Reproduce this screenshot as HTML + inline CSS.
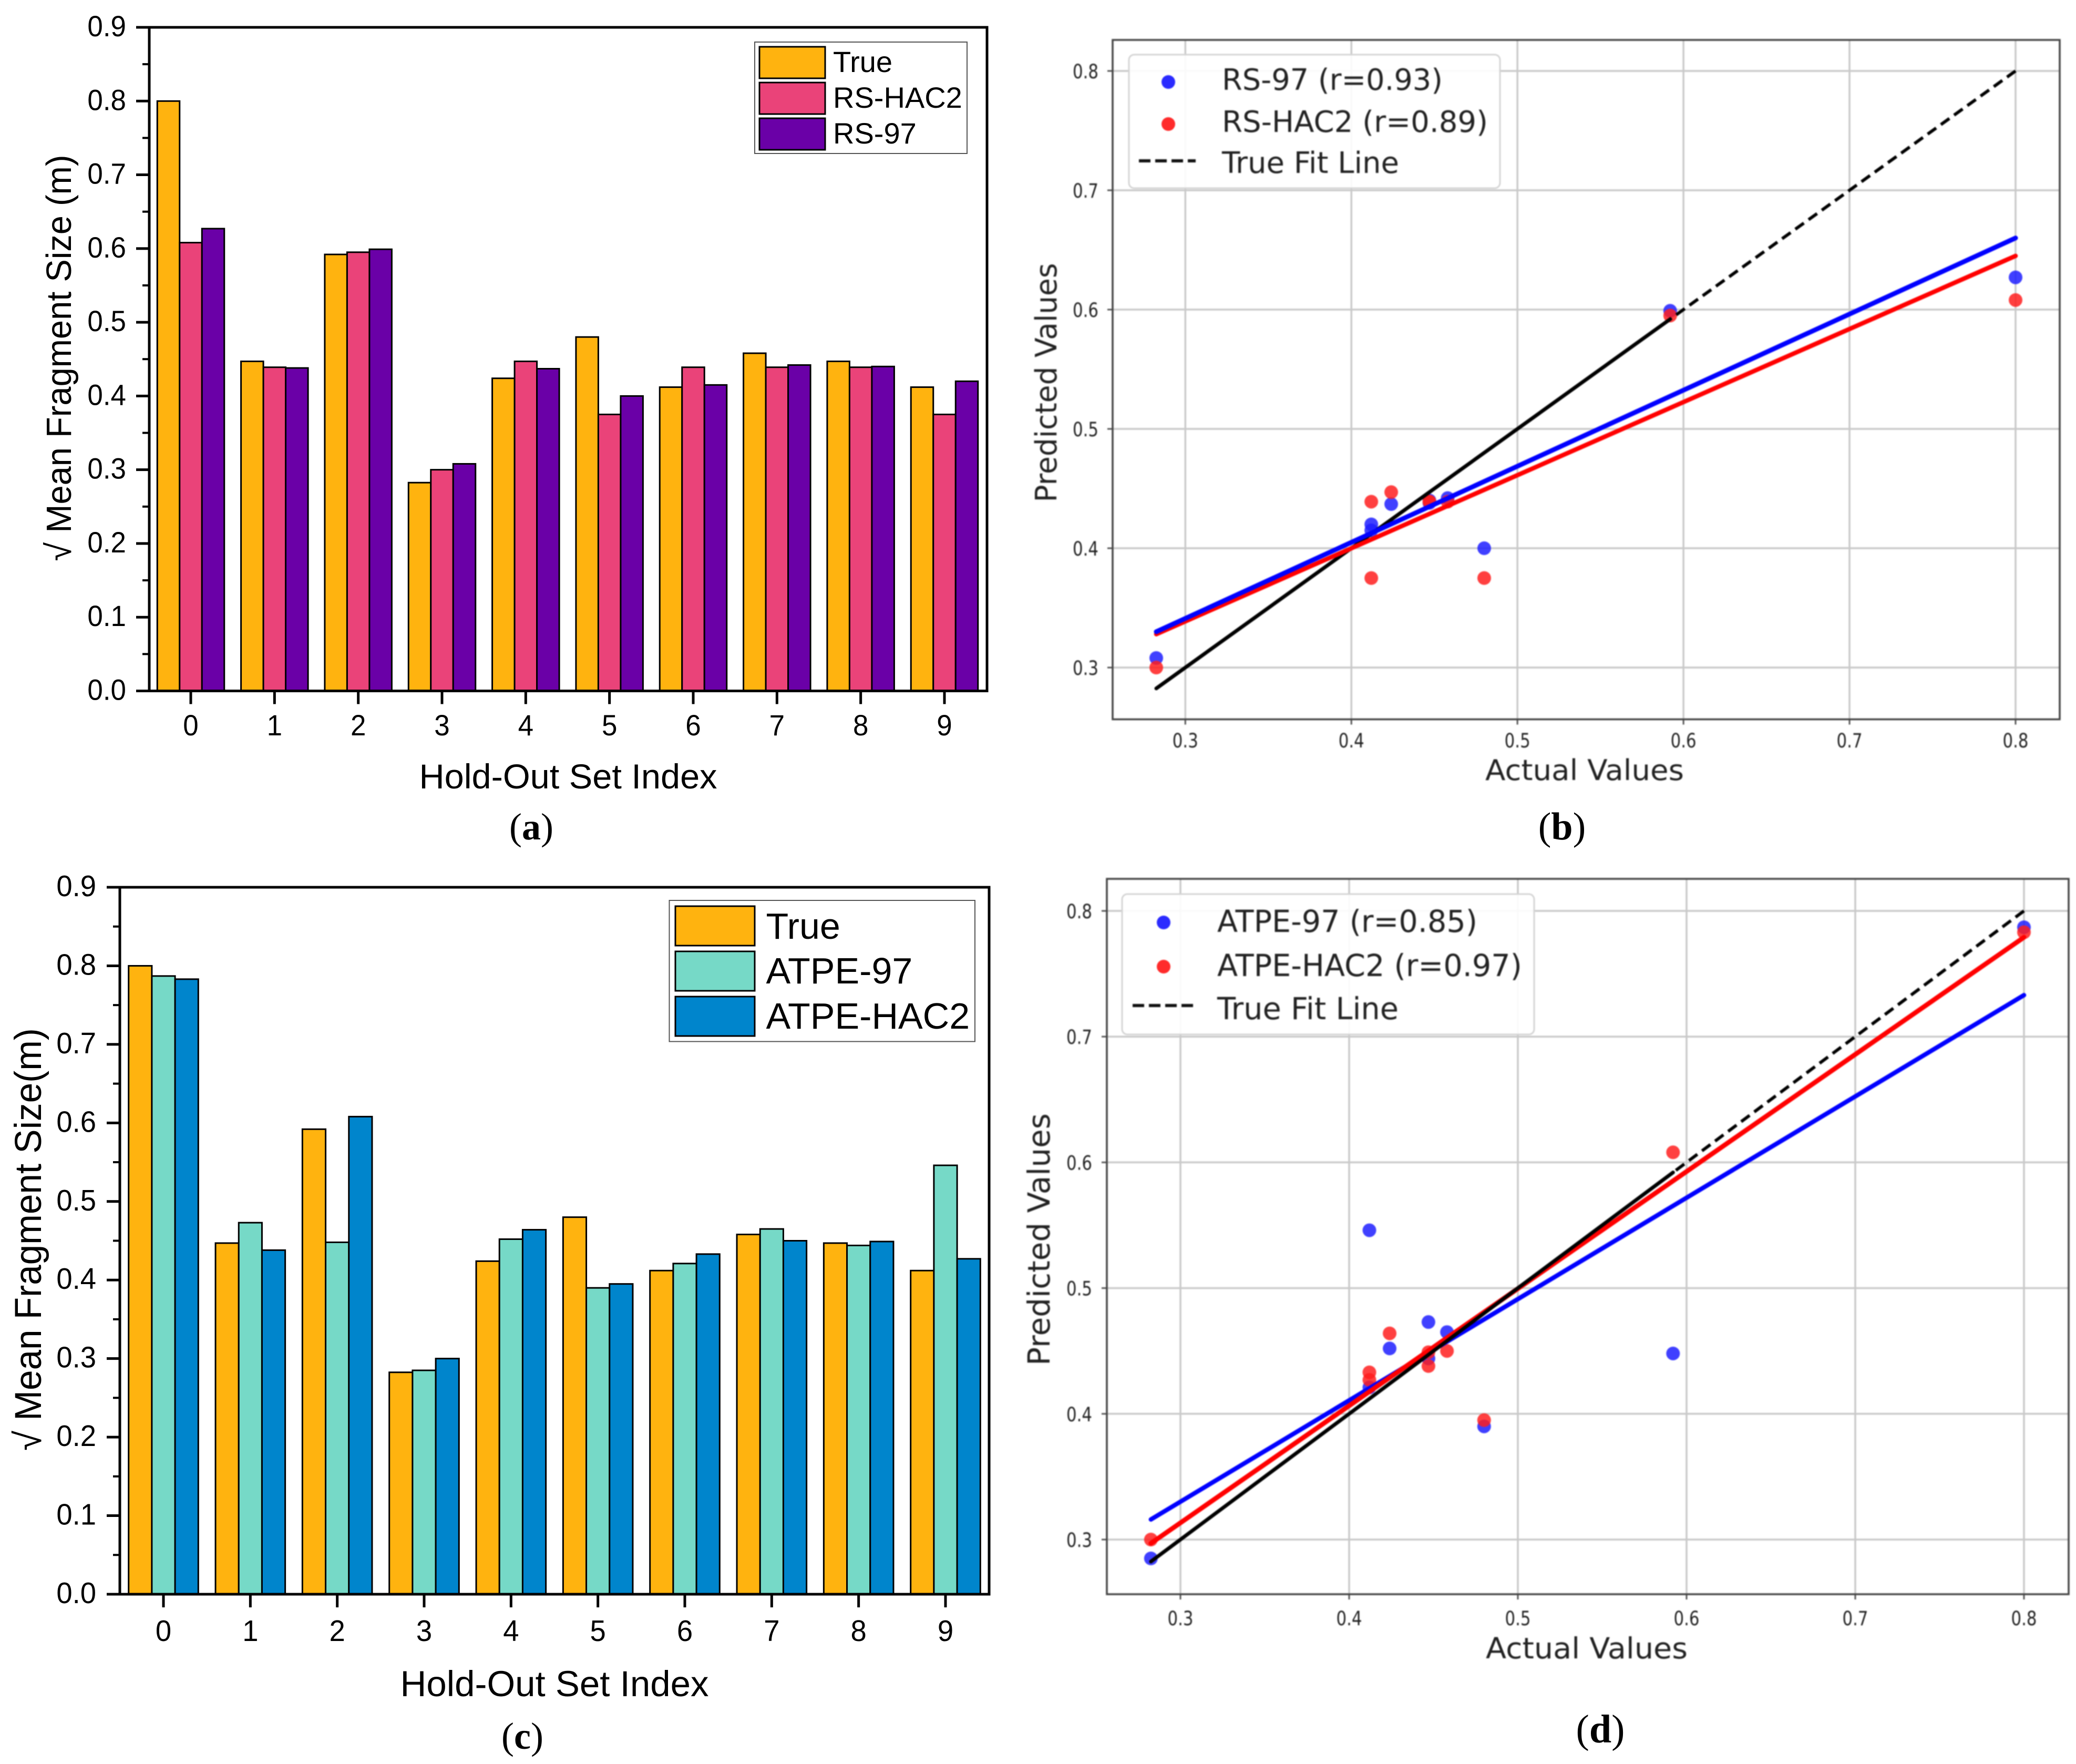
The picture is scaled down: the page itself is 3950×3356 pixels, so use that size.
<!DOCTYPE html>
<html lang="en">
<head>
<meta charset="utf-8">
<title>Hold-out fragment size comparison</title>
<style>
html,body{margin:0;padding:0;background:#fff;}
svg{display:block;}
.bar-text{font-family:"Liberation Sans",sans-serif;fill:#000;}
.cap{font-family:"Liberation Serif",serif;fill:#000;}
.mpl{font-family:"DejaVu Sans",sans-serif;fill:#222;}
</style>
</head>
<body>
<svg xmlns="http://www.w3.org/2000/svg" width="3950" height="3356" viewBox="0 0 3950 3356">
<rect x="0" y="0" width="3950" height="3356" fill="#fff"/>

<g>
  <g id="plot-a"></g>
  <rect x="284" y="52" width="1594" height="1262.5" fill="none" stroke="#000" stroke-width="5"/>
  <text class="bar-text" transform="translate(135,681) rotate(-90)" text-anchor="middle" font-size="67" textLength="773" lengthAdjust="spacingAndGlyphs">√ Mean Fragment Size (m)</text>
  <text class="bar-text" x="1081" y="1500" text-anchor="middle" font-size="66" textLength="567" lengthAdjust="spacingAndGlyphs">Hold-Out Set Index</text>
  <g>
    <rect x="1436" y="80" width="404" height="212" fill="#fff" stroke="#555" stroke-width="2"/>
    <rect x="1445" y="89" width="125" height="60" fill="#FFB30F" stroke="#000" stroke-width="3"/>
    <rect x="1445" y="157" width="125" height="60" fill="#EA4379" stroke="#000" stroke-width="3"/>
    <rect x="1445" y="225" width="125" height="60" fill="#6A00A7" stroke="#000" stroke-width="3"/>
    <text class="bar-text" x="1585" y="137" font-size="56">True</text>
    <text class="bar-text" x="1585" y="205" font-size="56">RS-HAC2</text>
    <text class="bar-text" x="1585" y="273" font-size="56">RS-97</text>
  </g>
  <text class="cap" x="1011" y="1597" text-anchor="middle" font-size="72">(<tspan font-weight="bold">a</tspan>)</text>
</g>

<g>
  <g id="plot-c"></g>
  <rect x="228" y="1688" width="1654" height="1345" fill="none" stroke="#000" stroke-width="5"/>
  <text class="bar-text" transform="translate(78,2358) rotate(-90)" text-anchor="middle" font-size="71" textLength="804" lengthAdjust="spacingAndGlyphs">√ Mean Fragment Size(m)</text>
  <text class="bar-text" x="1055" y="3227" text-anchor="middle" font-size="69" textLength="587" lengthAdjust="spacingAndGlyphs">Hold-Out Set Index</text>
  <g>
    <rect x="1273.5" y="1713" width="581.5" height="268.5" fill="#fff" stroke="#555" stroke-width="2"/>
    <rect x="1285" y="1724" width="151" height="75" fill="#FFB30F" stroke="#000" stroke-width="3"/>
    <rect x="1285" y="1810" width="151" height="75" fill="#76D9C7" stroke="#000" stroke-width="3"/>
    <rect x="1285" y="1896" width="151" height="75" fill="#0085CC" stroke="#000" stroke-width="3"/>
    <text class="bar-text" x="1457.5" y="1786" font-size="70">True</text>
    <text class="bar-text" x="1457.5" y="1871" font-size="70">ATPE-97</text>
    <text class="bar-text" x="1457.5" y="1957" font-size="70">ATPE-HAC2</text>
  </g>
  <text class="cap" x="994" y="3327" text-anchor="middle" font-size="72">(<tspan font-weight="bold">c</tspan>)</text>
</g>

<g>
  <g style="filter:blur(1.1px)">
    <g id="plot-b"></g>
    <rect x="2117" y="76" width="1802" height="1292.5" fill="none" stroke="#444" stroke-width="3.5"/>
    <text class="mpl" x="3015" y="1484" text-anchor="middle" font-size="54" textLength="378" lengthAdjust="spacingAndGlyphs">Actual Values</text>
    <text class="mpl" transform="translate(2010,728) rotate(-90)" text-anchor="middle" font-size="56" textLength="455" lengthAdjust="spacingAndGlyphs">Predicted Values</text>
    <g>
      <rect x="2148" y="104" width="706" height="254" rx="10" fill="#fff" fill-opacity="0.9" stroke="#d4d4d4" stroke-width="3"/>
      <circle cx="2223" cy="156" r="13" fill="#2b2bff"/>
      <circle cx="2223" cy="236" r="13" fill="#ff2b2b"/>
      <line x1="2167" y1="306" x2="2275" y2="306" stroke="#111" stroke-width="6" stroke-dasharray="22 9"/>
      <text class="mpl" x="2325" y="171" font-size="56" textLength="420" lengthAdjust="spacingAndGlyphs">RS-97 (r=0.93)</text>
      <text class="mpl" x="2325" y="251" font-size="56" textLength="506" lengthAdjust="spacingAndGlyphs">RS-HAC2 (r=0.89)</text>
      <text class="mpl" x="2325" y="329" font-size="56" textLength="337" lengthAdjust="spacingAndGlyphs">True Fit Line</text>
    </g>
  </g>
  <text class="cap" x="2972" y="1597" text-anchor="middle" font-size="74">(<tspan font-weight="bold">b</tspan>)</text>
</g>

<g>
  <g style="filter:blur(1.1px)">
    <g id="plot-d"></g>
    <rect x="2106" y="1672" width="1830" height="1361" fill="none" stroke="#444" stroke-width="3.5"/>
    <text class="mpl" x="3019" y="3155" text-anchor="middle" font-size="55" textLength="384" lengthAdjust="spacingAndGlyphs">Actual Values</text>
    <text class="mpl" transform="translate(1997,2358) rotate(-90)" text-anchor="middle" font-size="58" textLength="480" lengthAdjust="spacingAndGlyphs">Predicted Values</text>
    <g>
      <rect x="2135" y="1701" width="784" height="267" rx="10" fill="#fff" fill-opacity="0.9" stroke="#d4d4d4" stroke-width="3"/>
      <circle cx="2214" cy="1755" r="13" fill="#2b2bff"/>
      <circle cx="2214" cy="1839" r="13" fill="#ff2b2b"/>
      <line x1="2155" y1="1913" x2="2270" y2="1913" stroke="#111" stroke-width="6" stroke-dasharray="22 9"/>
      <text class="mpl" x="2316" y="1773" font-size="58" textLength="495" lengthAdjust="spacingAndGlyphs">ATPE-97 (r=0.85)</text>
      <text class="mpl" x="2316" y="1857" font-size="58" textLength="580" lengthAdjust="spacingAndGlyphs">ATPE-HAC2 (r=0.97)</text>
      <text class="mpl" x="2316" y="1939" font-size="58" textLength="345" lengthAdjust="spacingAndGlyphs">True Fit Line</text>
    </g>
  </g>
  <text class="cap" x="3045" y="3315" text-anchor="middle" font-size="76">(<tspan font-weight="bold">d</tspan>)</text>
</g>
</svg>

<script>
/* Chart data */
const holdOutCategories = ['0','1','2','3','4','5','6','7','8','9'];
const trueValues = [0.800,0.447,0.592,0.2825,0.424,0.480,0.412,0.458,0.447,0.412];
const rsHac2Values = [0.608,0.439,0.595,0.300,0.447,0.375,0.439,0.439,0.439,0.375];
const rs97Values = [0.627,0.438,0.599,0.308,0.437,0.400,0.415,0.442,0.440,0.420];
const atpe97Values = [0.787,0.473,0.448,0.285,0.452,0.390,0.421,0.465,0.444,0.546];
const atpeHac2Values = [0.783,0.438,0.608,0.300,0.464,0.395,0.433,0.450,0.449,0.427];
const barTickValues = [0,0.1,0.2,0.3,0.4,0.5,0.6,0.7,0.8,0.9];
const barTickLabels = ['0.0','0.1','0.2','0.3','0.4','0.5','0.6','0.7','0.8','0.9'];
const barMinorTickValues = [0.05,0.15,0.25,0.35,0.45,0.55,0.65,0.75,0.85];
const scatterTickValues = [0.3,0.4,0.5,0.6,0.7,0.8];
const scatterTickLabels = ['0.3','0.4','0.5','0.6','0.7','0.8'];
const fitActualEnds = [0.2825,0.800];
const rs97FitEnds = [0.330,0.660];
const rsHac2FitEnds = [0.328,0.645];
const atpe97FitEnds = [0.316,0.733];
const atpeHac2FitEnds = [0.297,0.779];
const trueLineSolidEnds = [0.2825,0.592];
const trueLineDashedEnds = [0.800,0.2825];

const SVG_NS = 'http://www.w3.org/2000/svg';
function make(tag, parent, attrs) {
  const node = document.createElementNS(SVG_NS, tag);
  Object.keys(attrs).forEach(function (k) { node.setAttribute(k, attrs[k]); });
  parent.appendChild(node);
  return node;
}
function linearScale(d0, d1, r0, r1) {
  return function (v) { return r0 + (v - d0) * (r1 - r0) / (d1 - d0); };
}
function squeezeText(node, ratio) {
  node.setAttribute('textLength', node.getComputedTextLength() * ratio);
  node.setAttribute('lengthAdjust', 'spacingAndGlyphs');
}

function drawBarChart(plotId, prefix, box, seriesList) {
  const plot = document.getElementById(plotId);
  const y = linearScale(0, 0.9, box.bottom, box.top);
  const x = linearScale(0, 9, box.first, box.last);
  seriesList.forEach(function (series, s) {
    series.values.forEach(function (value, i) {
      const rect = make('rect', plot, {
        x: x(i) + (s - 1.5) * box.barWidth,
        y: y(value),
        width: box.barWidth,
        height: y(0) - y(value),
        fill: series.color,
        stroke: '#000',
        'stroke-width': 3
      });
      
      
    });
  });
  barTickValues.forEach(function (value, i) {
    const tick = make('line', plot, {x1: box.left - 25, x2: box.left, y1: y(value), y2: y(value), stroke: '#000', 'stroke-width': 5});
    
    
    const label = make('text', plot, {x: box.labelRight, y: y(value) + 17, 'text-anchor': 'end', 'font-size': box.fontSize, class: 'bar-text'});
    label.textContent = barTickLabels[i];
    squeezeText(label, box.squeeze);
    
    
  });
  barMinorTickValues.forEach(function (value) {
    const tick = make('line', plot, {x1: box.left - 13, x2: box.left, y1: y(value), y2: y(value), stroke: '#000', 'stroke-width': 4});
    
    
  });
  holdOutCategories.forEach(function (category, i) {
    const tick = make('line', plot, {x1: x(i), x2: x(i), y1: box.bottom, y2: box.bottom + 25, stroke: '#000', 'stroke-width': 5});
    
    
    const label = make('text', plot, {x: x(i), y: box.xLabelY, 'text-anchor': 'middle', 'font-size': box.fontSize, class: 'bar-text'});
    label.textContent = category;
    squeezeText(label, box.squeeze);
    
    
  });
}

function drawScatterChart(plotId, prefix, box, pointSeries, fitSeries) {
  const plot = document.getElementById(plotId);
  const x = linearScale(0.3, 0.8, box.x03, box.x08);
  const y = linearScale(0.3, 0.8, box.y03, box.y08);
  scatterTickValues.forEach(function (value, i) {
    const vGrid = make('line', plot, {x1: x(value), x2: x(value), y1: box.top, y2: box.bottom, stroke: '#c9c9c9', 'stroke-width': 3.5});
    
    
    const hGrid = make('line', plot, {x1: box.left, x2: box.right, y1: y(value), y2: y(value), stroke: '#c9c9c9', 'stroke-width': 3.5});
    
    
    const xTick = make('line', plot, {x1: x(value), x2: x(value), y1: box.bottom, y2: box.bottom + 10, stroke: '#555', 'stroke-width': 3});
    
    
    const yTick = make('line', plot, {x1: box.left - 10, x2: box.left, y1: y(value), y2: y(value), stroke: '#555', 'stroke-width': 3});
    
    
    const xLabel = make('text', plot, {x: x(value), y: box.xLabelY, 'text-anchor': 'middle', 'font-size': 37, textLength: 49, lengthAdjust: 'spacingAndGlyphs', class: 'mpl'});
    xLabel.textContent = scatterTickLabels[i];
    
    
    const yLabel = make('text', plot, {x: box.yLabelRight, y: y(value) + 14, 'text-anchor': 'end', 'font-size': 37, textLength: 49, lengthAdjust: 'spacingAndGlyphs', class: 'mpl'});
    yLabel.textContent = scatterTickLabels[i];
    
    
  });
  pointSeries.forEach(function (series) {
    series.values.forEach(function (value, i) {
      const dot = make('circle', plot, {cx: x(trueValues[i]), cy: y(value), r: 13, fill: series.color, 'fill-opacity': 0.85});
      
      
    });
  });
  fitSeries.forEach(function (series) {
    const line = make('line', plot, {
      x1: x(series.xs[0]), y1: y(series.ys[0]),
      x2: x(series.xs[1]), y2: y(series.ys[1]),
      stroke: series.color, 'stroke-width': series.width
    });
    if (series.dash) { line.setAttribute('stroke-dasharray', series.dash); }
    else { line.setAttribute('stroke-linecap', 'round'); }
    
    
  });
}

drawBarChart('plot-a', 'panel-a',
  {left: 284, top: 52, bottom: 1314.5, first: 363, last: 1797, barWidth: 42.5, labelRight: 240, xLabelY: 1399, fontSize: 56, squeeze: 0.945},
  [{key: 'true', values: trueValues, color: '#FFB30F'},
   {key: 'rs-hac2', values: rsHac2Values, color: '#EA4379'},
   {key: 'rs-97', values: rs97Values, color: '#6A00A7'}]);

drawBarChart('plot-c', 'panel-c',
  {left: 228, top: 1688, bottom: 3033, first: 311, last: 1799, barWidth: 44.2, labelRight: 183, xLabelY: 3122, fontSize: 57, squeeze: 0.955},
  [{key: 'true', values: trueValues, color: '#FFB30F'},
   {key: 'atpe-97', values: atpe97Values, color: '#76D9C7'},
   {key: 'atpe-hac2', values: atpeHac2Values, color: '#0085CC'}]);

drawScatterChart('plot-b', 'panel-b',
  {left: 2117, right: 3919, top: 76, bottom: 1368.5, x03: 2255.3, x08: 3835, y03: 1270, y08: 135, xLabelY: 1422, yLabelRight: 2090},
  [{key: 'rs-97', values: rs97Values, color: '#1f1fff'},
   {key: 'rs-hac2', values: rsHac2Values, color: '#ff1f1f'}],
  [{key: 'true-fit-dashed', xs: trueLineDashedEnds, ys: trueLineDashedEnds, color: '#000', width: 6, dash: '20 11'},
   {key: 'true-fit-solid', xs: trueLineSolidEnds, ys: trueLineSolidEnds, color: '#000', width: 7},
   {key: 'rs-hac2-fit', xs: fitActualEnds, ys: rsHac2FitEnds, color: '#ff0000', width: 8.5},
   {key: 'rs-97-fit', xs: fitActualEnds, ys: rs97FitEnds, color: '#0000ff', width: 9}]);

drawScatterChart('plot-d', 'panel-d',
  {left: 2106, right: 3936, top: 1672, bottom: 3033, x03: 2246, x08: 3851, y03: 2929, y08: 1733, xLabelY: 3092, yLabelRight: 2078},
  [{key: 'atpe-97', values: atpe97Values, color: '#1f1fff'},
   {key: 'atpe-hac2', values: atpeHac2Values, color: '#ff1f1f'}],
  [{key: 'atpe-97-fit', xs: fitActualEnds, ys: atpe97FitEnds, color: '#0000ff', width: 8.5},
   {key: 'atpe-hac2-fit', xs: fitActualEnds, ys: atpeHac2FitEnds, color: '#ff0000', width: 9},
   {key: 'true-fit-dashed', xs: trueLineDashedEnds, ys: trueLineDashedEnds, color: '#000', width: 6, dash: '20 11'},
   {key: 'true-fit-solid', xs: trueLineSolidEnds, ys: trueLineSolidEnds, color: '#000', width: 7}]);
</script>
</body>
</html>
